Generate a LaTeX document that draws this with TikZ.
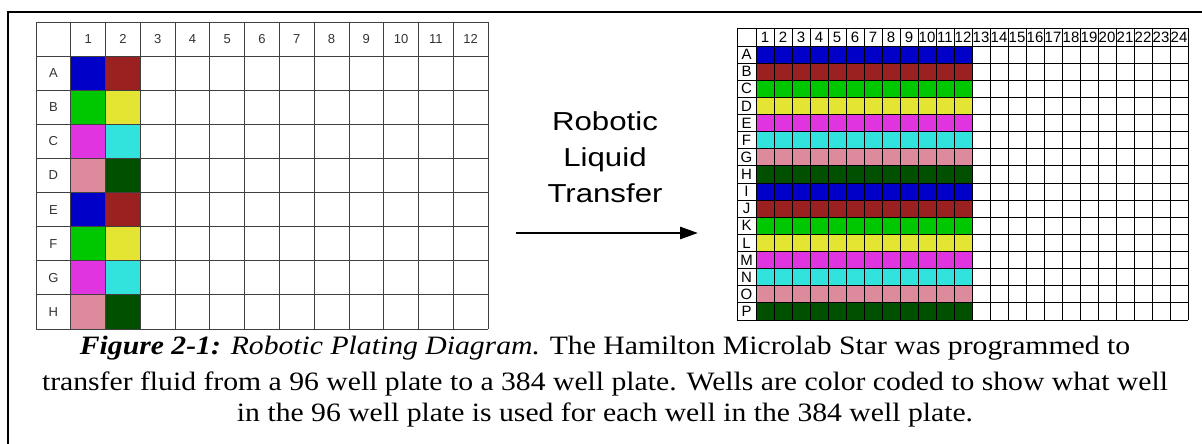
\documentclass[tikz,border=0pt]{standalone}
\usepackage{fontspec}
\setmainfont{Liberation Serif}[FakeStretch=1.12]
\newfontfamily\gridfont{Liberation Sans}
\newfontfamily\widesans{Liberation Sans}[FakeStretch=1.2]
\usetikzlibrary{arrows.meta}

% well colours
\definecolor{wblue}{RGB}{0,0,200}
\definecolor{wred}{RGB}{155,32,32}
\definecolor{wgreen}{RGB}{0,200,0}
\definecolor{wyellow}{RGB}{228,228,50}
\definecolor{wmagenta}{RGB}{224,52,224}
\definecolor{wcyan}{RGB}{50,226,220}
\definecolor{wpink}{RGB}{220,138,156}
\definecolor{wdkgreen}{RGB}{0,80,0}

\tikzset{
  frameline/.style={line width=2.5pt, black},
  gridA/.style={line width=0.8pt, black!75},
  gridB/.style={line width=0.8pt, black},
  labA/.style={inner sep=0pt, text=black!80, font=\gridfont\fontsize{13}{13}\selectfont},
  labB/.style={inner sep=0pt, text=black, font=\gridfont\fontsize{15}{15}\selectfont},
  bigtext/.style={inner sep=0pt, anchor=base, font=\widesans\fontsize{26}{26}\selectfont},
  captext/.style={inner sep=0pt, anchor=base, font=\fontsize{26.5}{26.5}\selectfont},
  transfer/.style={line width=2.8pt, -{Triangle[length=18pt,width=12pt]}},
}

\begin{document}
\begin{tikzpicture}[x=1pt,y=-1pt]
\useasboundingbox (0,0) rectangle (1202,444);
\fill[white] (0,0) rectangle (1202,444);

% frame along the top and the left side
\draw[frameline] (8,444) -- (8,12) -- (1202,12);

% ---------- 96 well plate ----------
\def\lx{36}\def\ly{22}\def\lw{34.77}\def\lh{34.11}
\foreach \c [count=\i] in {wblue,wgreen,wmagenta,wpink,wblue,wgreen,wmagenta,wpink}
  \fill[\c] (\lx+\lw,\ly+\i*\lh) rectangle ++(\lw,\lh);
\foreach \c [count=\i] in {wred,wyellow,wcyan,wdkgreen,wred,wyellow,wcyan,wdkgreen}
  \fill[\c] (\lx+2*\lw,\ly+\i*\lh) rectangle ++(\lw,\lh);
\foreach \k in {0,...,13}
  \draw[gridA] (\lx+\k*\lw,\ly) -- ++(0,9*\lh);
\foreach \k in {0,...,9}
  \draw[gridA] (\lx,\ly+\k*\lh) -- ++(13*\lw,0);
\foreach \n in {1,...,12}
  \node[labA] (pcol\n) at (\lx+\n*\lw+0.5*\lw,\ly+0.5*\lh) {\n};
\foreach \L [count=\i] in {A,B,C,D,E,F,G,H}
  \node[labA] (prow\L) at (\lx+0.5*\lw,\ly+\i*\lh+0.5*\lh) {\L};

% ---------- 384 well plate ----------
\def\rx{737}\def\ry{28}\def\cx{756}\def\cy{46}\def\rw{18}\def\rh{17.125}
\foreach \c [count=\i] in {wblue,wred,wgreen,wyellow,wmagenta,wcyan,wpink,wdkgreen,
                           wblue,wred,wgreen,wyellow,wmagenta,wcyan,wpink,wdkgreen}
  \fill[\c] (\cx,\cy+\i*\rh-\rh) rectangle ++(12*\rw,\rh);
\draw[gridB] (\rx,\ry) -- (\rx,\cy+16*\rh);
\foreach \k in {0,...,24}
  \draw[gridB] (\cx+\k*\rw,\ry) -- (\cx+\k*\rw,\cy+16*\rh);
\draw[gridB] (\rx,\ry) -- (\cx+24*\rw,\ry);
\foreach \k in {0,...,16}
  \draw[gridB] (\rx,\cy+\k*\rh) -- (\cx+24*\rw,\cy+\k*\rh);
\foreach \n in {1,...,24}
  \node[labB] (qcol\n) at (\cx+\n*\rw-0.5*\rw,0.5*\ry+0.5*\cy) {\n};
\foreach \L [count=\i] in {A,B,C,D,E,F,G,H,I,J,K,L,M,N,O,P}
  \node[labB] (qrow\L) at (0.5*\rx+0.5*\cx,\cy+\i*\rh-0.5*\rh) {\L};

% ---------- transfer label and arrow ----------
\node[bigtext] (t1) at (605,130) {Robotic};
\node[bigtext] (t2) at (605,166) {Liquid};
\node[bigtext] (t3) at (605,202) {Transfer};
\coordinate (arrS) at (516,233);
\coordinate (arrE) at (698,233);
\draw[transfer] (arrS) -- (arrE);

% ---------- caption ----------
\node[captext] (cap1) at (605,354) {\textbf{\textit{Figure 2-1:}} \textit{Robotic Plating Diagram.} The Hamilton Microlab Star was programmed to};
\node[captext] (cap2) at (605,390) {transfer fluid from a 96 well plate to a 384 well plate. Wells are color coded to show what well};
\node[captext] (cap3) at (605,421) {in the 96 well plate is used for each well in the 384 well plate.};
\end{tikzpicture}
\end{document}
